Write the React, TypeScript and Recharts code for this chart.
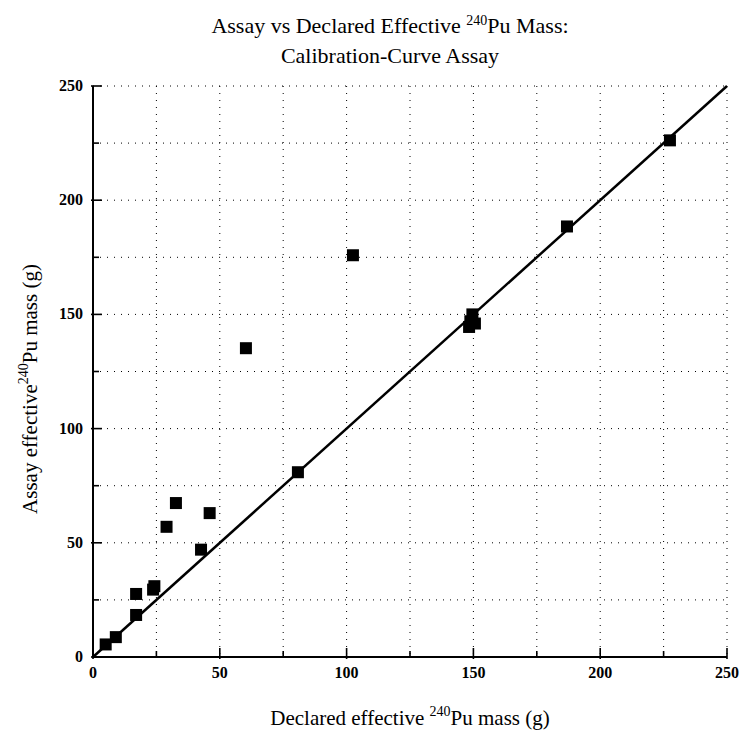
import React from 'react';
import {
  ScatterChart, Scatter, XAxis, YAxis, CartesianGrid, ReferenceLine, Label,
} from 'recharts';

const declared = [5, 9, 17, 17, 23.7, 24.2, 29, 32.7, 42.6, 46, 60.3, 80.8, 102.5, 148.3, 148.8, 149.6, 150.6, 186.9, 227.5];
const assay = [5.5, 8.7, 18.4, 27.6, 29.5, 31, 57, 67.4, 47, 63, 135.2, 80.9, 175.9, 144.5, 147, 150, 146, 188.5, 226.2];
const axisTicks = [0, 25, 50, 75, 100, 125, 150, 175, 200, 225, 250];
const lineStart = { x: 0, y: 0 };
const lineEnd = { x: 250, y: 250 };

const points = declared.map((d, i) => ({ x: d, y: assay[i] }));

const FONT = '"Liberation Serif", "DejaVu Serif", serif';

const isMajor = (v: number) => v % 50 === 0;

const BottomTick = (props: any) => {
  const { x, y, payload } = props;
  const major = isMajor(payload.value);
  return (
    <g>
      <line x1={x} x2={x} y1={y + (major ? 2 : 0)} y2={y - (major ? 9 : 6)} stroke="#000" strokeWidth={1.6} />
      {major && (
        <text x={x} y={y + 21} textAnchor="middle" fontFamily={FONT} fontSize={16} fontWeight="bold" fill="#000">
          {payload.value}
        </text>
      )}
    </g>
  );
};

const TopTick = (props: any) => {
  const { x, y, payload } = props;
  const major = isMajor(payload.value);
  return <line x1={x} x2={x} y1={y} y2={y + (major ? 9 : 6)} stroke="#000" strokeWidth={1.6} />;
};

const LeftTick = (props: any) => {
  const { x, y, payload } = props;
  const major = isMajor(payload.value);
  return (
    <g>
      <line x1={x - (major ? 2 : 0)} x2={x + (major ? 9 : 6)} y1={y} y2={y} stroke="#000" strokeWidth={1.6} />
      {major && (
        <text x={x - 10} y={y + 5} textAnchor="end" fontFamily={FONT} fontSize={16} fontWeight="bold" fill="#000">
          {payload.value}
        </text>
      )}
    </g>
  );
};

const RightTick = (props: any) => {
  const { x, y, payload } = props;
  const major = isMajor(payload.value);
  return <line x1={x} x2={x - (major ? 9 : 6)} y1={y} y2={y} stroke="#000" strokeWidth={1.6} />;
};

const SquareShape = (props: any) => {
  const { cx, cy } = props;
  return <rect x={cx - 6} y={cy - 6} width={12} height={12} fill="#000" />;
};

const XLabel = (props: any) => {
  const vb = props.viewBox;
  const cx = vb.x + vb.width / 2;
  return (
    <text x={cx} y={725} textAnchor="middle" fontFamily={FONT} fontSize={21} fill="#000">
      <tspan>Declared effective </tspan>
      <tspan fontSize={14} dy={-9}>240</tspan>
      <tspan dy={9}>Pu mass (g)</tspan>
    </text>
  );
};

const YLabel = () => {
  const cx = 37;
  const cy = 389;
  return (
    <text x={cx} y={cy} transform={`rotate(-90, ${cx}, ${cy})`} textAnchor="middle" fontFamily={FONT} fontSize={21} fill="#000">
      <tspan>Assay effective</tspan>
      <tspan fontSize={14} dy={-9}>240</tspan>
      <tspan dy={9}>Pu mass (g)</tspan>
    </text>
  );
};

export default function App() {
  return (
    <div style={{ position: 'absolute', left: 0, top: 0, width: 740, height: 733, background: '#fff' }}>
      <div style={{ position: 'absolute', left: 0, top: 11, width: 780, textAlign: 'center', fontFamily: FONT, fontSize: 22, lineHeight: '30px', color: '#000' }}>
        <div>Assay vs Declared Effective <sup style={{ fontSize: 14, verticalAlign: 'top', position: 'relative', top: -5 }}>240</sup>Pu Mass:</div>
        <div>Calibration-Curve Assay</div>
      </div>
      <div style={{ position: 'absolute', left: 0, top: 0 }}>
        <ScatterChart width={740} height={733} margin={{ top: 86, right: 13, bottom: 46, left: 33 }}>
          <CartesianGrid stroke="#000" strokeDasharray="1 6" strokeWidth={1} />
          <XAxis
            type="number"
            dataKey="x"
            domain={[0, 250]}
            ticks={axisTicks}
            interval={0}
            tickSize={0}
            tickMargin={0}
            height={30}
            axisLine={{ stroke: '#000', strokeWidth: 2 }}
            tick={<BottomTick />}
          >
            <Label content={<XLabel />} />
          </XAxis>
          <XAxis
            xAxisId="top"
            orientation="top"
            type="number"
            domain={[0, 250]}
            ticks={axisTicks}
            interval={0}
            tickSize={0}
            tickMargin={0}
            height={0}
            axisLine={{ stroke: '#000', strokeWidth: 2 }}
            tick={<TopTick />}
          />
          <YAxis
            type="number"
            dataKey="y"
            domain={[0, 250]}
            ticks={axisTicks}
            interval={0}
            tickSize={0}
            tickMargin={0}
            width={60}
            axisLine={{ stroke: '#000', strokeWidth: 2 }}
            tick={<LeftTick />}
          >
            <Label content={<YLabel />} />
          </YAxis>
          <YAxis
            yAxisId="right"
            orientation="right"
            type="number"
            domain={[0, 250]}
            ticks={axisTicks}
            interval={0}
            tickSize={0}
            tickMargin={0}
            width={0}
            axisLine={{ stroke: '#000', strokeWidth: 2.5 }}
            tick={<RightTick />}
          />
          <ReferenceLine segment={[lineStart, lineEnd]} stroke="#000" strokeWidth={2.5} ifOverflow="extendDomain" />
          <Scatter data={points} fill="#000" shape={<SquareShape />} isAnimationActive={false} />
        </ScatterChart>
      </div>
    </div>
  );
}
